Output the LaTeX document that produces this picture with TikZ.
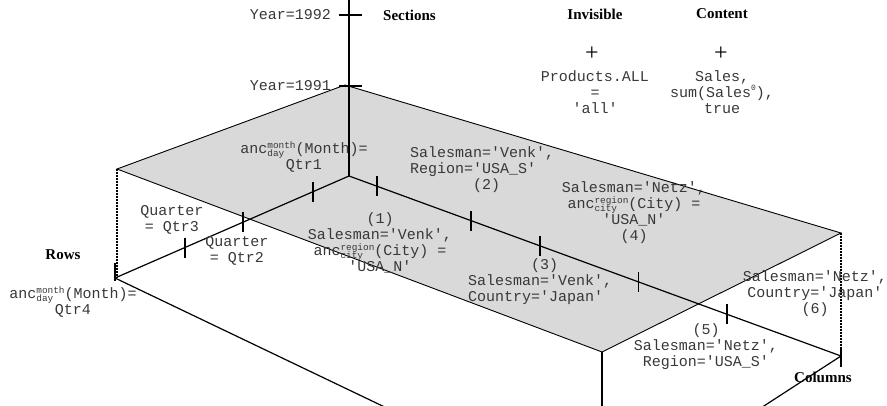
\documentclass[tikz,border=0pt]{standalone}
\usepackage{fontspec}
\setmainfont{Liberation Serif}
\setmonofont{Liberation Mono}
\usetikzlibrary{calc}
\newcommand\ancsc[2]{anc{\fontsize{9.4}{9.4}\selectfont\rlap{\raisebox{5pt}{#1}}\rlap{\raisebox{-3pt}{#2}}\hphantom{#1}}}
\newcommand\supzero{{\fontsize{8}{8}\selectfont\raisebox{7pt}{0}}}
\begin{document}
\begin{tikzpicture}[x=1pt,y=-1pt,
  mono/.style={font=\ttfamily\fontsize{15}{16}\selectfont, text=black!78, inner sep=0pt, align=center},
  lbl/.style={font=\bfseries\fontsize{15}{16}\selectfont, inner sep=0pt},
  axisline/.style={line width=1.2pt},
  edgeline/.style={line width=0.9pt},
  tickm/.style={line width=1.3pt},
  dotv/.style={line width=1.8pt, black, dash pattern=on 2.5pt off 0.5pt},
  plusmark/.style={font=\fontsize{24}{24}\selectfont, inner sep=0pt}]
\useasboundingbox (0,0) rectangle (887,406);
\clip (0,0) rectangle (887,406);
% key points
\coordinate (top) at (349,-5);
\coordinate (O) at (349,176);
\coordinate (T) at (345,85);
\coordinate (R) at (841,233);
\coordinate (B) at (602,352);
\coordinate (L) at (117,169);
\coordinate (RW) at (115,278);
\coordinate (CL) at (841,356);
\coordinate (BB) at (602,511);
\coordinate (Ld) at (117,278);
\coordinate (Bd) at (602,410);
\coordinate (Rd) at (841,347);
% gray plane
\fill[black!15] (T) -- (R) -- (B) -- (L) -- cycle;
\draw[edgeline] (T) -- (R) -- (B) -- (L) -- cycle;
% dotted verticals
\draw[dotv] (L) -- (Ld);
\draw[dotv] (B) -- (Bd);
\draw[dotv] (R) -- (Rd);
% axes
\draw[axisline] (top) -- (O);
\draw[axisline] (O) -- (RW);
\draw[axisline] (O) -- (CL);
\draw[axisline] (RW) -- (BB);
\draw[axisline] (CL) -- (BB);
% end ticks
\draw[tickm] (115,263) -- (115,281);
\draw[tickm] (841,347) -- (841,367);
% sections ticks
\draw[tickm] (339,15) -- (362,15);
\draw[tickm] (339,86) -- (362,86);
% rows ticks
\foreach \p in {0.154,0.453,0.701}
  \draw[tickm] ($(O)!\p!(RW)+(0,-10)$) -- ($(O)!\p!(RW)+(0,10)$);
% columns ticks
\foreach \p in {0.057,0.248,0.388,0.589,0.768}
  \draw[tickm] ($(O)!\p!(CL)+(0,-10)$) -- ($(O)!\p!(CL)+(0,10)$);
% labels
\node[mono, anchor=east] (y92) at (331,15) {Year=1992};
\node[mono, anchor=east] (y91) at (331,86) {Year=1991};
\node[lbl, anchor=west] (sec) at (383,15) {Sections};
\node[lbl] (inv) at (595,14) {Invisible};
\node[lbl] (con) at (722,14) {Content};
\node[plusmark] (p1) at (592,54) {+};
\node[plusmark] (p2) at (721,54) {+};
\node[mono] (prod) at (595,92) {Products.ALL\\=\\'all'};
\node[mono] (sales) at (722,92) {Sales,\\sum(Sales\supzero),\\true};
\node[mono] (q1) at (304,157) {\ancsc{month}{day}(Month)=\\Qtr1};
\node[mono, anchor=west, align=left] (c2) at (410,169.5) {Salesman='Venk',\\Region='USA\_S'\\\hspace*{63pt}(2)};
\node[mono] (c4) at (634,213) {Salesman='Netz',\\\ancsc{region}{city}(City) =\\'USA\_N'\\(4)};
\node[mono] (q3) at (172,219.5) {Quarter\\= Qtr3};
\node[mono] (q2) at (237,251) {Quarter\\= Qtr2};
\node[mono] (c1) at (380,243) {(1)\\Salesman='Venk',\\\ancsc{region}{city}(City) =\\'USA\_N'};
\node[lbl] (rows) at (63,255) {Rows};
\node[mono] (q4) at (73,302) {\ancsc{month}{day}(Month)=\\Qtr4};
\node[mono, anchor=west, align=left] (c3) at (468,281.5) {\hspace*{63pt}(3)\\Salesman='Venk',\\Country='Japan'};
\node[mono] (c6) at (815,293.5) {Salesman='Netz',\\Country='Japan'\\(6)};
\node[mono] (c5) at (706,347) {(5)\\Salesman='Netz',\\Region='USA\_S'};
\node[lbl] (cols) at (823,377) {Columns};
\end{tikzpicture}
\end{document}
